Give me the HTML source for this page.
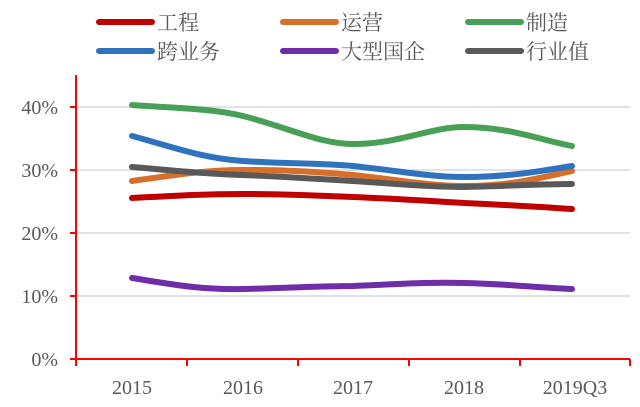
<!DOCTYPE html>
<html><head><meta charset="utf-8"><style>
html,body{margin:0;padding:0;background:#fff;}
svg{display:block;font-family:"Liberation Serif","Noto Serif CJK SC",serif;}
</style></head><body>
<svg width="640" height="407" viewBox="0 0 640 407">
<g stroke="#d9d9d9" stroke-width="1.5">
<line x1="76" y1="107" x2="630" y2="107"/>
<line x1="76" y1="170" x2="630" y2="170"/>
<line x1="76" y1="233" x2="630" y2="233"/>
<line x1="76" y1="296" x2="630" y2="296"/>
</g>
<g stroke="#ff0000" stroke-width="2">
<line x1="76" y1="75" x2="76" y2="366"/>
<line x1="76" y1="359" x2="630" y2="359"/>
<line x1="70" y1="107" x2="76" y2="107"/><line x1="70" y1="170" x2="76" y2="170"/>
<line x1="70" y1="233" x2="76" y2="233"/><line x1="70" y1="296" x2="76" y2="296"/>
<line x1="70" y1="359" x2="76" y2="359"/>
<line x1="187" y1="359" x2="187" y2="366"/><line x1="298" y1="359" x2="298" y2="366"/>
<line x1="409" y1="359" x2="409" y2="366"/><line x1="520" y1="359" x2="520" y2="366"/>
<line x1="630" y1="359" x2="630" y2="366"/>
</g>
<g fill="#595959" font-size="20" text-anchor="end">
<text x="58" y="114">40%</text><text x="58" y="177">30%</text>
<text x="58" y="240">20%</text><text x="58" y="303">10%</text><text x="58" y="366">0%</text>
</g>
<g fill="#595959" font-size="20" text-anchor="middle">
<text x="132" y="394">2015</text><text x="243" y="394">2016</text><text x="353" y="394">2017</text>
<text x="464" y="394">2018</text><text x="575" y="394">2019Q3</text>
</g>
<g fill="none" stroke-width="6" stroke-linecap="round">
<path stroke="#6f2da8" d="M132,278 C170,284 200,290 243,289 C290,288 320,286 353,286 C400,284 430,282 464,283 C510,284 540,288 572,289"/>
<path stroke="#c00000" d="M132,198 C170,196 200,194 243,194 C290,194 320,196 353,197 C400,199 430,201 464,203 C510,205 540,207 572,209"/>
<path stroke="#d56f2a" d="M132,181 C170,176 200,170 243,170 C290,170 320,172 353,175 C400,180 430,186 464,186 C510,186 540,178 572,171"/>
<path stroke="#595959" d="M132,167 C170,170 200,174 243,175 C290,177 320,179 353,181 C400,184 430,187 464,187 C510,186 540,184 572,184"/>
<path stroke="#2f72be" d="M132,136 C170,146 200,158 243,161 C290,164 320,163 353,166 C400,171 430,177 464,177 C510,177 540,171 572,166"/>
<path stroke="#47a055" d="M132,105 C170,108 210,108 243,116 C290,128 320,144 353,144 C400,144 430,127 464,127 C510,127 540,140 572,146"/>
</g>
<g stroke-width="6" stroke-linecap="round">
<line x1="99" y1="22" x2="152" y2="22" stroke="#c00000"/>
<line x1="283" y1="22" x2="336" y2="22" stroke="#d56f2a"/>
<line x1="468" y1="22" x2="521" y2="22" stroke="#47a055"/>
<line x1="99" y1="51" x2="152" y2="51" stroke="#2f72be"/>
<line x1="283" y1="51" x2="336" y2="51" stroke="#6f2da8"/>
<line x1="468" y1="51" x2="521" y2="51" stroke="#595959"/>
</g>
<g fill="#595959" font-size="21">
<text x="157" y="30">工程</text><text x="341" y="30">运营</text><text x="526" y="30">制造</text>
<text x="157" y="59">跨业务</text><text x="341" y="59">大型国企</text><text x="526" y="59">行业值</text>
</g>
</svg>
</body></html>
